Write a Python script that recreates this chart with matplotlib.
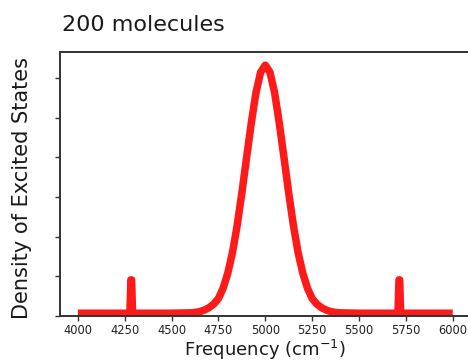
import matplotlib
matplotlib.use("Agg")
import matplotlib.pyplot as plt

# Density of excited states for a 200-molecule aggregate
frequency = [4000, 4100, 4200, 4278, 4283, 4287, 4292, 4400, 4500, 4600,
             4625, 4650, 4675, 4700, 4725, 4750, 4775, 4800, 4825, 4850,
             4875, 4900, 4925, 4950, 4975, 5000, 5025, 5050, 5075, 5100,
             5125, 5150, 5175, 5200, 5225, 5250, 5275, 5300, 5325, 5350,
             5375, 5400, 5500, 5600, 5708, 5713, 5717, 5722, 5800, 5900, 6000]
density = [0.07, 0.07, 0.07, 0.07, 0.91, 0.91, 0.07, 0.07, 0.07, 0.08,
           0.09, 0.11, 0.15, 0.21, 0.30, 0.44, 0.70, 1.08, 1.60, 2.28,
           3.10, 3.98, 4.85, 5.62, 6.14, 6.32, 6.14, 5.62, 4.85, 3.98,
           3.10, 2.28, 1.60, 1.08, 0.70, 0.44, 0.30, 0.21, 0.15, 0.11,
           0.09, 0.08, 0.07, 0.07, 0.07, 0.91, 0.91, 0.07, 0.07, 0.07, 0.07]

x_ticks = [4000, 4250, 4500, 4750, 5000, 5250, 5500, 5750, 6000]
y_ticks = [0, 1, 2, 3, 4, 5, 6]

fig = plt.figure(figsize=(4.68, 3.63), dpi=100)
ax = fig.add_axes([60 / 468, 47 / 363, 410 / 468, 264 / 363])

ax.plot(frequency, density, color="#ff1a1a", linewidth=5.4,
        solid_joinstyle="round", solid_capstyle="butt")

ax.set_xlim(3905, 6092)
ax.set_ylim(0, 6.65)
ax.set_xticks(x_ticks)
ax.set_xticklabels([str(t) for t in x_ticks], fontsize=8.3, color="#222222")
ax.set_yticks(y_ticks)
ax.set_yticklabels([])
ax.tick_params(direction="out", length=3.5, width=1.0, color="#333333")
ax.tick_params(axis="x", pad=2.0)

for side in ax.spines.values():
    side.set_linewidth(1.4)
    side.set_color("#333333")

fig.text(62 / 468, 1 - 31 / 363, "200 molecules", fontsize=16,
         ha="left", va="baseline", color="#1a1a1a")
fig.text(22 / 468, 1 - 188 / 363, "Density of Excited States", fontsize=15,
         rotation=90, ha="center", va="center", color="#1a1a1a")
fig.text(265 / 468, 1 / 363, r"Frequency (cm$^{-1}$)", fontsize=13,
         ha="center", va="bottom", color="#1a1a1a")

fig.savefig("out.png", dpi=100)
